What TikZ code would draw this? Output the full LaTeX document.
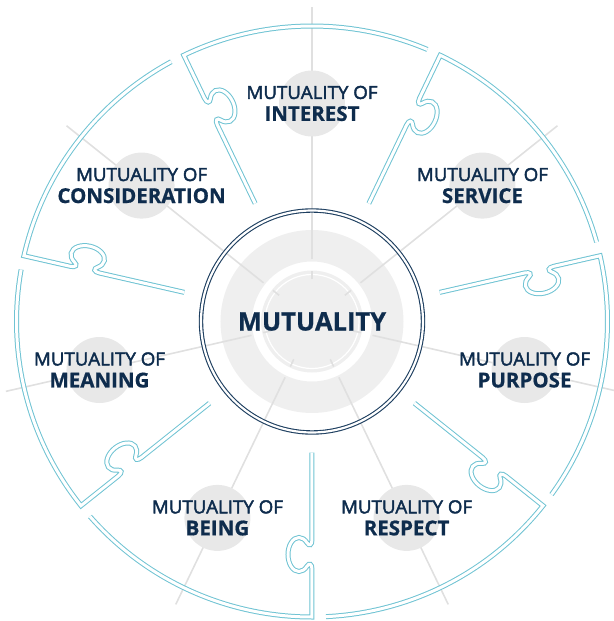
\documentclass[tikz,border=0pt]{standalone}
\usepackage{fontspec}
\setmainfont{Open Sans}[BoldFeatures={FakeBold=0.7}]
\newfontfamily\semib[FakeBold=2.4,FakeStretch=1.04]{Open Sans}
\definecolor{cyanc}{HTML}{6FC3D3}
\definecolor{navyline}{HTML}{1E3F60}
\definecolor{navytext}{HTML}{0E2C4D}
\definecolor{ringgray}{HTML}{EFEFEF}
\definecolor{labelgray}{HTML}{E8E8E8}
\definecolor{spokegray}{HTML}{E0E0E0}
\begin{document}
\begin{tikzpicture}[x=1pt,y=1pt,
  spoke/.style={draw=spokegray,line width=1.6},
  piece/.style={draw=cyanc,line width=1,double=white,double distance=3,line join=miter},
  hubring/.style={draw=navyline,line width=1.1,double=white,double distance=2.2},
  labelcirc/.style={circle,fill=labelgray,minimum size=66,inner sep=0},
  lbl/.style={align=center,text=navytext,inner sep=0,font=\fontsize{18}{22}\selectfont},
  hubtext/.style={text=navytext,inner sep=0,font=\bfseries\fontsize{25.5}{30}\selectfont}]
\useasboundingbox (-312,-299.5) rectangle (301,321.5);
% central rings
\fill[ringgray,even odd rule] (0,0) circle (91.5) (0,0) circle (60);
\fill[ringgray] (0,0) circle (51);
\draw[white,line width=1.2] (0,0) circle (47);
% spokes
\foreach \i in {0,...,6}{
  \pgfmathsetmacro\a{90-\i*360/7}
  \draw[spoke] (\a:62) -- (\a:314);
  \draw[spoke] (\a:42) -- (\a:50);
}
% label discs
\foreach \i in {0,...,6}{
  \pgfmathsetmacro\a{90-\i*360/7}
  \node[labelcirc] (c\i) at (\a:218) {};
}
% hub double circle
\draw[hubring] (0,0) circle (111);
% puzzle boundaries with outer arcs (local x radial, knob toward -y)
\foreach \i in {0,...,6}{
  \pgfmathsetmacro\b{90+180/7-\i*360/7}
  \begin{scope}[rotate=\b]
    \draw[piece] (131,0) -- (218,0)
      .. controls (224,0) and (224.7,-2.9) .. (221.3,-5)
      .. controls (217.9,-7.1) and (216,-10) .. (216,-13)
      .. controls (216,-19.1) and (223.6,-24) .. (233,-24)
      .. controls (242.4,-24) and (250,-19.1) .. (250,-13)
      .. controls (250,-10) and (248.1,-7.1) .. (244.7,-5)
      .. controls (241.3,-2.9) and (242,0) .. (248,0)
      -- (295.5,0) arc[start angle=0,end angle=-48.7,radius=295.5];
  \end{scope}
}
% texts
\foreach \i/\name in {0/INTEREST,1/SERVICE,2/PURPOSE,3/RESPECT,4/BEING,5/MEANING,6/CONSIDERATION}{
  \node[lbl] (t\i) at (c\i) {{\semib MUTUALITY OF}\\{\bfseries\fontsize{20.5}{22}\selectfont \name}};
}
\node[hubtext] (hub) at (0,0) {MUTUALITY};
\end{tikzpicture}
\end{document}
